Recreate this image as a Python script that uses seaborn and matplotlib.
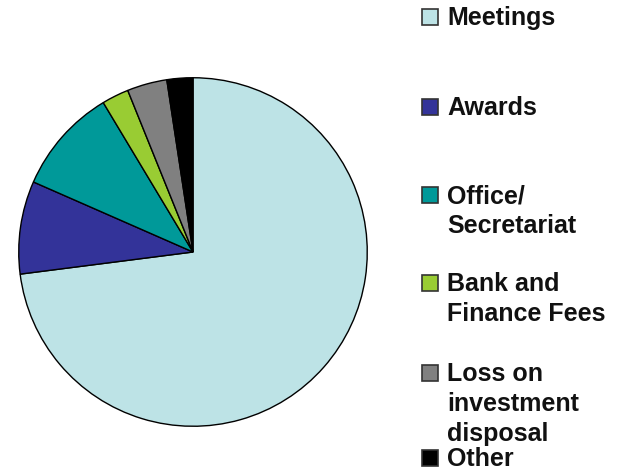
import matplotlib
matplotlib.use("Agg")
import seaborn as sns
from matplotlib import pyplot as plt
from matplotlib.patches import Rectangle

# data (share of expenses, %)
labels = ['Meetings', 'Awards', 'Office/\nSecretariat', 'Bank and\nFinance Fees',
          'Loss on\ninvestment\ndisposal', 'Other']
values = [72.9, 8.6, 9.8, 2.5, 3.7, 2.4]
colors = ['#bde3e6', '#333399', '#009999', '#99cc33', '#808080', '#000000']

# legend rows: top of the capital letters, in pixels from the top of the image
label_tops = [8, 98, 186, 274, 364, 449]

sns.set_style('white')
plt.rcParams['font.family'] = ['Liberation Sans', 'DejaVu Sans']

W, H = 623, 471
fig = plt.figure(figsize=(W / 100, H / 100), dpi=100)
ax = fig.add_axes([17 / W, 43 / H, 352 / W, 352 / H])

ax.pie(values, colors=sns.color_palette(colors), startangle=90, counterclock=False,
       radius=1, wedgeprops=dict(edgecolor='black', linewidth=1.0))
ax.set_xlim(-1.01, 1.01)
ax.set_ylim(-1.01, 1.01)
ax.set_aspect('equal')
ax.axis('off')

# hand-made legend on the right
sq = 16
for lab, col, top in zip(labels, colors, label_tops):
    fig.add_artist(Rectangle((422 / W, 1 - (top + 1 + sq) / H), sq / W, sq / H,
                             facecolor=col, edgecolor='#333333', linewidth=1.2,
                             transform=fig.transFigure))
    fig.text(447 / W, 1 - (top - 2) / H, lab, fontsize=18, fontweight='bold',
             va='top', ha='left', linespacing=1.32, color='#111111')

fig.savefig('out.png', dpi=100)
